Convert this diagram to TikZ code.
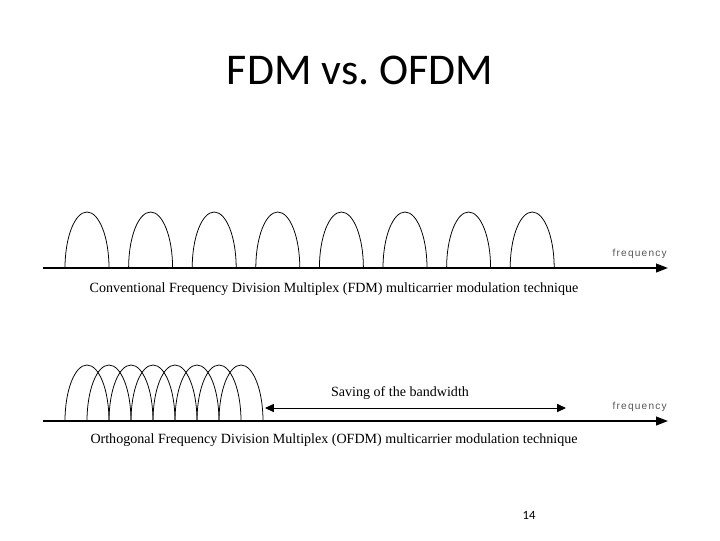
\documentclass[tikz,border=0pt]{standalone}
\usepackage{fontspec}
\setmainfont{Liberation Serif}
\newfontfamily\slidefont{Carlito}
\newfontfamily\freqfont[LetterSpace=12]{Liberation Sans}
\usetikzlibrary{arrows.meta,positioning}
\definecolor{labelgray}{HTML}{555555}

\begin{document}
\begin{tikzpicture}[x=0.025cm,y=-0.025cm,
    hump/.style={line width=0.55pt},
    axis/.style={-{Triangle[length=3mm,width=2.2mm]}, line width=1.1pt},
    span/.style={{Triangle[length=2.2mm,width=2mm]}-{Triangle[length=2.2mm,width=2mm]}, line width=0.7pt},
    caption/.style={font=\fontsize{10}{12}\selectfont, inner sep=0pt},
    freq/.style={font=\freqfont\fontsize{7.2}{9}\selectfont, text=labelgray, inner sep=0pt},
]
\useasboundingbox (0,0) rectangle (720,540);

\node[font=\slidefont\fontsize{31.2}{36}\selectfont] (title) at (360,70) {FDM vs.\ OFDM};

% FDM
\coordinate (fdm start) at (43,268);
\coordinate (fdm end) at (668,268);
\draw[axis] (fdm start) -- (fdm end);
\foreach \i in {0,...,7}
  \draw[hump] ({65+63.6*\i},268) arc[start angle=180,end angle=360,x radius=22,y radius=56];
\node[freq, anchor=base east] (fdm freq) at (667,256) {frequency};
\node[caption] (fdm caption) at (334,289) {Conventional Frequency Division Multiplex (FDM) multicarrier modulation technique};

% OFDM
\coordinate (ofdm start) at (43,421);
\coordinate (ofdm end) at (668,421);
\draw[axis] (ofdm start) -- (ofdm end);
\foreach \i in {0,...,7}
  \draw[hump] ({65+22*\i},421) arc[start angle=180,end angle=360,x radius=22,y radius=56];
\node[freq, anchor=base east] (ofdm freq) at (667,409) {frequency};
\coordinate (save left) at (265,408);
\coordinate (save right) at (566,408);
\draw[span] (save left) -- (save right);
\node[caption] (save label) at (400,393) {Saving of the bandwidth};
\node[caption] (ofdm caption) at (334,440) {Orthogonal Frequency Division Multiplex (OFDM) multicarrier modulation technique};

\node[font=\slidefont\fontsize{9}{11}\selectfont] (page) at (529,515) {14};

\end{tikzpicture}
\end{document}
